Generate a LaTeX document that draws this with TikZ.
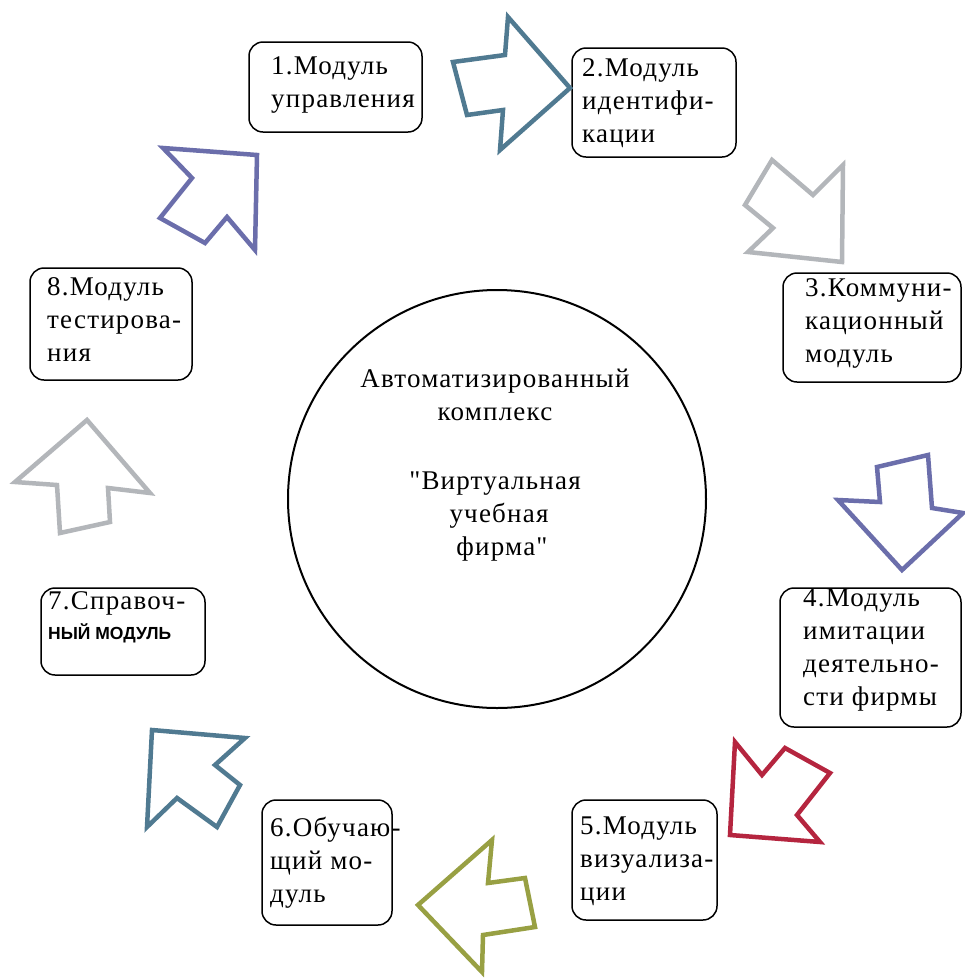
\documentclass[tikz,border=0pt]{standalone}
\usepackage{fontspec}
\newfontfamily\tms[LetterSpace=4.5]{Liberation Serif}
\newfontfamily\arl{Liberation Sans}
\definecolor{cteal}{HTML}{507A91}
\definecolor{cgrey}{HTML}{B3B6BA}
\definecolor{cviol}{HTML}{6B6EAB}
\definecolor{cred}{HTML}{B5253F}
\definecolor{colive}{HTML}{98A043}
\tikzset{
  modbox/.style={draw, line width=1.5pt, rounded corners=14pt, inner sep=0pt},
  lbl/.style={anchor=north west, inner sep=0pt, align=left, font=\tms\fontsize{27}{33}\selectfont},
  blk/.style={line width=4.5pt, line join=miter, miter limit=4, fill=white},
}
\begin{document}
\begin{tikzpicture}[x=1pt,y=-1pt]
\useasboundingbox (0,0) rectangle (965,978);
\fill[white] (0,0) rectangle (965,978);

% centre
\node[draw, circle, line width=2pt, minimum size=418pt, inner sep=0pt] (c) at (497,499) {};
\node[anchor=north, inner sep=0pt, align=center, font=\tms\fontsize{27}{33}\selectfont] (ct) at (495,369)
 {Автоматизированный\\комплекс\hspace{10pt}\\[36pt]"Виртуальная\hspace{18pt}\\\hspace{8pt}учебная\\\hspace{14pt}фирма"};

% boxes
\node[modbox, minimum width=173pt, minimum height=90pt] (b1) at (335.5,87) {};
\node[modbox, minimum width=164pt, minimum height=109pt] (b2) at (654,102.5) {};
\node[modbox, minimum width=178pt, minimum height=109pt] (b3) at (872,327.5) {};
\node[modbox, minimum width=181pt, minimum height=139pt] (b4) at (870.5,657.5) {};
\node[modbox, minimum width=145pt, minimum height=120pt] (b5) at (644.5,860) {};
\node[modbox, minimum width=130pt, minimum height=125pt] (b6) at (327,862.5) {};
\node[modbox, minimum width=164pt, minimum height=87pt] (b7) at (123,631.5) {};
\node[modbox, minimum width=162pt, minimum height=112pt] (b8) at (111,324) {};

% labels
\node[lbl] (t1) at (271,56) {1.Модуль\\управления};
\node[lbl] (t2) at (582,58) {2.Модуль\\идентифи-\\кации};
\node[lbl] (t3) at (805,278) {3.Коммуни-\\кационный\\модуль};
\node[lbl] (t4) at (803,589) {4.Модуль\\имитации\\деятельно-\\сти фирмы};
\node[lbl] (t5) at (580,817) {5.Модуль\\визуализа-\\ции};
\node[lbl] (t6) at (270,817) {6.Обучаю-\\щий мо-\\дуль};
\node[lbl] (t7) at (48,591) {7.Справоч-\\[-3pt]{\arl\bfseries\fontsize{17.5}{21}\selectfont НЫЙ МОДУЛЬ}};
\node[lbl] (t8) at (47,277) {8.Модуль\\тестирова-\\ния};

% block arrows
\draw[blk, draw=cteal] (453,62) -- (505,55) -- (508,17) -- (570,88) -- (500,150) -- (503,110) -- (467,115) -- cycle;
\draw[blk, draw=cgrey] (772,160) -- (813,195) -- (843,165) -- (842,262) -- (748,252) -- (773,228) -- (745,205) -- cycle;
\draw[blk, draw=cviol] (877,467) -- (928,455) -- (932,508) -- (963,513) -- (902,570) -- (838,500) -- (880,502) -- cycle;
\draw[blk, draw=cred] (735,742) -- (762,775) -- (785,748) -- (830,773) -- (797,815) -- (820,842) -- (730,835) -- cycle;
\draw[blk, draw=colive] (492,840) -- (488,883) -- (525,878) -- (535,927) -- (483,935) -- (482,972) -- (418,905) -- cycle;
\draw[blk, draw=cteal] (152,730) -- (245,738) -- (215,765) -- (240,785) -- (217,827) -- (177,798) -- (147,827) -- cycle;
\draw[blk, draw=cgrey] (87,420) -- (150,493) -- (108,488) -- (110,522) -- (60,533) -- (57,485) -- (15,482) -- cycle;
\draw[blk, draw=cviol] (163,148) -- (257,155) -- (255,250) -- (227,217) -- (205,243) -- (160,218) -- (192,178) -- cycle;
\end{tikzpicture}
\end{document}
